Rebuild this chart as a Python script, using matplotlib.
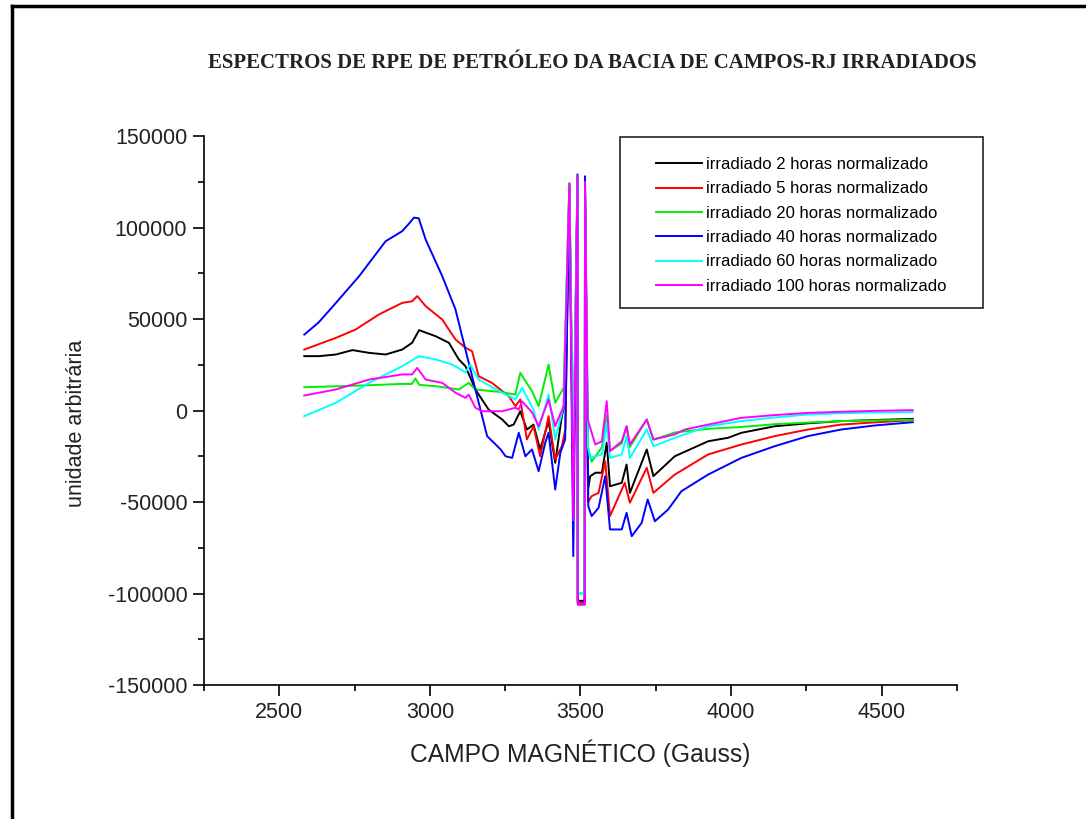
import matplotlib
matplotlib.use("Agg")
import matplotlib.pyplot as plt
from matplotlib.lines import Line2D
from matplotlib.patches import Rectangle
from matplotlib.ticker import MultipleLocator

plt.rcParams["axes.unicode_minus"] = False

# ---------------- data ----------------
labels = ["irradiado 2 horas normalizado", "irradiado 5 horas normalizado",
          "irradiado 20 horas normalizado", "irradiado 40 horas normalizado",
          "irradiado 60 horas normalizado", "irradiado 100 horas normalizado"]
colors = ["#000000", "#ff0000", "#00ee00", "#0000ff", "#00ffff", "#ff00ff"]

central_g = [3463, 3476, 3490, 3491, 3514, 3515]

black_g = [2583, 2632, 2688, 2743, 2798, 2853, 2908, 2941, 2964, 3019, 3063, 3096, 3118, 3151, 3195,
           3240, 3262, 3278, 3300, 3322, 3344, 3366, 3394, 3416, 3438, 3450] + central_g + \
          [3525, 3532, 3550, 3571, 3587, 3598, 3637, 3653, 3664, 3720, 3742, 3813, 3924, 3990, 4034,
           4145, 4255, 4365, 4476, 4603]
black_v = [29700, 29700, 30600, 33000, 31500, 30600, 33300, 37000, 43900, 40600, 37000, 27900, 24200,
           11500, 500, -4900, -8600, -7700, -400, -10400, -7700, -21300, -5800, -28600, -3100, 5000,
           124000, -40000, 128000, -104000, -104000, 120000,
           -43200, -35900, -34000, -34000, -17600, -41400, -39500, -29500, -45000, -21300, -35900,
           -25000, -16800, -14900, -12200, -8600, -7000, -5800, -5200, -4600]

red_g = [2583, 2688, 2754, 2831, 2908, 2941, 2958, 2986, 3041, 3085, 3118, 3140, 3162, 3206, 3262,
         3284, 3300, 3322, 3344, 3366, 3394, 3416, 3438, 3450] + central_g + \
        [3525, 3537, 3560, 3582, 3598, 3647, 3664, 3720, 3742, 3813, 3924, 4034, 4145, 4255, 4365,
         4476, 4603]
red_v = [33300, 39700, 44300, 52500, 58800, 59700, 62500, 57000, 49700, 38800, 34300, 32400, 18700,
         15100, 7800, 2400, 6000, -15800, -8600, -25000, -3100, -26800, -19500, -10000,
         124000, -50000, 128000, -105000, -105000, 120000,
         -50000, -46800, -45000, -27700, -57700, -39500, -50400, -31300, -45000, -35000, -24000,
         -18600, -14000, -10400, -7700, -6500, -5300]

green_g = [2583, 2700, 2800, 2900, 2940, 2952, 2965, 3019, 3096, 3129, 3151, 3239, 3284, 3300, 3339,
           3361, 3394, 3416, 3444] + central_g + \
          [3525, 3537, 3571, 3587, 3598, 3637, 3653, 3664, 3720, 3742, 3813, 3924, 4034, 4145, 4255,
           4365, 4476, 4603]
green_v = [12700, 13300, 13800, 14500, 14500, 17500, 14000, 13300, 11500, 15100, 11500, 10000, 8700,
           20600, 10500, 2400, 25100, 4200, 12400,
           124000, -30000, 128000, -100000, -100000, 120000,
           -20000, -28000, -20000, -3000, -22000, -18000, -8600, -20000, -4900, -16000, -12000,
           -10000, -9000, -7500, -6600, -5800, -5400, -5100]

blue_g = [2583, 2630, 2688, 2765, 2853, 2908, 2930, 2947, 2963, 2986, 3041, 3085, 3118, 3151, 3190,
          3235, 3251, 3273, 3295, 3317, 3339, 3361, 3383, 3394, 3416, 3433, 3449] + central_g + \
         [3526, 3537, 3560, 3582, 3598, 3637, 3653, 3670, 3703, 3723, 3747, 3791, 3835, 3924, 4034,
          4145, 4255, 4365, 4476, 4603]
blue_v = [41500, 48000, 58800, 73400, 92500, 98000, 102000, 105400, 105000, 93400, 73400, 55200,
          33300, 11500, -14000, -21300, -25000, -25900, -12200, -25000, -21300, -33200, -17600,
          -12200, -43200, -23100, -15800,
          120000, -79600, 129000, -106000, -106000, 128000,
          -52300, -57700, -53200, -35900, -65000, -65000, -55900, -68700, -61400, -48600, -60500,
          -54100, -44100, -35000, -25900, -19500, -14000, -10400, -8200, -6400]

cyan_g = [2583, 2688, 2798, 2908, 2964, 3019, 3074, 3118, 3134, 3162, 3240, 3284, 3306, 3344, 3361,
          3394, 3416, 3444] + central_g + \
         [3525, 3532, 3571, 3587, 3598, 3637, 3653, 3664, 3720, 3742, 3813, 3924, 4034, 4145, 4255,
          4365, 4476, 4603]
cyan_v = [-3100, 4200, 15100, 24200, 29700, 27900, 25100, 20900, 25100, 16900, 9700, 6000, 12400, 500,
          -10400, 8700, -15800, 2400,
          124000, -30000, 128000, -100000, -100000, 120000,
          -20000, -25900, -24000, -6700, -25900, -24000, -14000, -25900, -10400, -19500, -14900,
          -8600, -5800, -3800, -2200, -1500, -1100, -900]

magenta_g = [2583, 2688, 2798, 2908, 2941, 2958, 2986, 3041, 3085, 3118, 3129, 3151, 3173, 3240, 3284,
             3295, 3306, 3339, 3361, 3394, 3416, 3444] + central_g + \
            [3524, 3549, 3571, 3587, 3598, 3637, 3653, 3664, 3720, 3742, 3813, 3846, 3924, 4034, 4145,
             4255, 4365, 4476, 4603]
magenta_v = [8200, 11500, 16900, 19700, 19700, 23300, 16900, 15100, 9700, 6900, 8700, 1500, -400, -400,
             1500, 500, 5000, -1000, -8600, 6000, -8600, 2400,
             124000, -60000, 128000, -106000, -106000, 125000,
             -4900, -18600, -16800, 5100, -22200, -16800, -8600, -18600, -4900, -15800, -13100,
             -10400, -7700, -4000, -2500, -1300, -700, -200, 200]

series_g = [black_g, red_g, green_g, blue_g, cyan_g, magenta_g]
series_v = [black_v, red_v, green_v, blue_v, cyan_v, magenta_v]

x_ticks = [2500, 3000, 3500, 4000, 4500]
y_ticks = [-150000, -100000, -50000, 0, 50000, 100000, 150000]

title = "ESPECTROS DE RPE DE PETRÓLEO DA BACIA DE CAMPOS-RJ IRRADIADOS"
xlabel = "CAMPO MAGNÉTICO (Gauss)"
ylabel = "unidade arbitrária"

W, H = 1086, 819

# ---------------- figure ----------------
fig = plt.figure(figsize=(W / 100, H / 100), dpi=100)
fig.patch.set_facecolor("white")
ax = fig.add_axes([204 / W, 1 - 685 / H, (957 - 204) / W, (685 - 136) / H])

for g, v, c, lab in zip(series_g, series_v, colors, labels):
    ax.plot(g, v, color=c, lw=1.4, label=lab)

ax.set_xlim(2250, 4750)
ax.set_ylim(-150000, 150000)
ax.set_xticks(x_ticks)
ax.set_yticks(y_ticks)
ax.xaxis.set_minor_locator(MultipleLocator(250))
ax.yaxis.set_minor_locator(MultipleLocator(25000))
ax.spines["top"].set_visible(False)
ax.spines["right"].set_visible(False)
for s in ("left", "bottom"):
    ax.spines[s].set_linewidth(1.2)
ax.tick_params(which="major", direction="out", length=8, width=1.2, labelsize=15.5, pad=4)
ax.tick_params(which="minor", direction="out", length=4.5, width=1.2)
for lbl in ax.get_xticklabels() + ax.get_yticklabels():
    lbl.set_fontfamily("Liberation Sans")
    lbl.set_color("#222222")

ax.set_xlabel(xlabel, fontsize=17.7, family="Liberation Sans", color="#222222", labelpad=12)
ax.set_ylabel(ylabel, fontsize=15.5, family="Liberation Sans", color="#222222")
ax.yaxis.set_label_coords((87 - 204) / (957 - 204), (685 - 423) / (685 - 136))

fig.text(592 / W, 1 - 63 / H, title, ha="center", va="center", fontsize=15,
         family="Liberation Serif", fontweight="bold", color="#222222")

# legend (frame drawn separately to match its padding)
leg = ax.legend(loc="upper left", bbox_to_anchor=(656 / W, 1 - 157 / H),
                bbox_transform=fig.transFigure, frameon=False,
                prop={"family": "Liberation Sans", "size": 12}, handlelength=2.75,
                handletextpad=0.25, labelspacing=0.56, borderpad=0, borderaxespad=0)
for line in leg.get_lines():
    line.set_linewidth(1.4)
fig.add_artist(Rectangle((620 / W, 1 - 308 / H), (983 - 620) / W, (308 - 137) / H,
                         transform=fig.transFigure, fill=False, edgecolor="#222222", lw=1.2))

# page frame (left and top edges)
fig.add_artist(Line2D([11.5 / W, 11.5 / W], [0, 1 - 6 / H], color="black", lw=2.5,
                      transform=fig.transFigure))
fig.add_artist(Line2D([11.5 / W, 1], [1 - 6 / H, 1 - 6 / H], color="black", lw=2.5,
                      transform=fig.transFigure))

fig.savefig("out.png", dpi=100)
